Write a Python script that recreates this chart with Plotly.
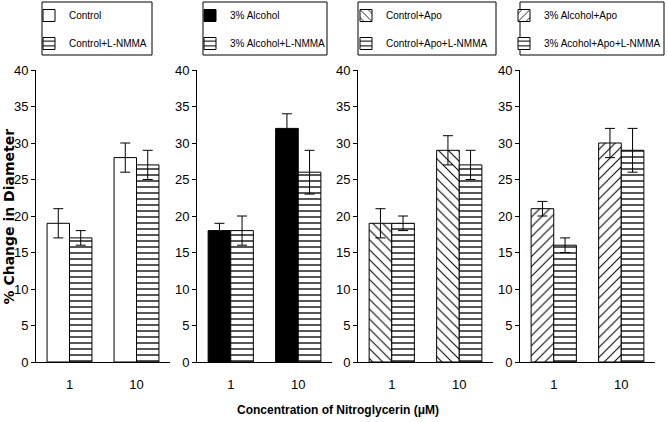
import plotly.graph_objects as go

categories = ["1", "10"]

# panel 1
control = [19, 28]
control_err = [2, 2]
control_nmma = [17, 27]
control_nmma_err = [1, 2]
# panel 2
alcohol = [18, 32]
alcohol_err = [1, 2]
alcohol_nmma = [18, 26]
alcohol_nmma_err = [2, 3]
# panel 3
control_apo = [19, 29]
control_apo_err = [2, 2]
control_apo_nmma = [19, 27]
control_apo_nmma_err = [1, 2]
# panel 4
alcohol_apo = [21, 30]
alcohol_apo_err = [1, 2]
alcohol_apo_nmma = [16, 29]
alcohol_apo_nmma_err = [1, 3]

y_ticks = [0, 5, 10, 15, 20, 25, 30, 35, 40]

FONT = "Liberation Sans, Arial, sans-serif"

panels = [
    (("Control", control, control_err, "white", ""),
     ("Control+L-NMMA", control_nmma, control_nmma_err, "white", "-")),
    (("3% Alcohol", alcohol, alcohol_err, "black", ""),
     ("3% Alcohol+L-NMMA", alcohol_nmma, alcohol_nmma_err, "white", "-")),
    (("Control+Apo", control_apo, control_apo_err, "white", "\\"),
     ("Control+Apo+L-NMMA", control_apo_nmma, control_apo_nmma_err, "white", "-")),
    (("3% Alcohol+Apo", alcohol_apo, alcohol_apo_err, "white", "/"),
     ("3% Acohol+Apo+L-NMMA", alcohol_apo_nmma, alcohol_apo_nmma_err, "white", "-")),
]

W, H = 667, 422
L, R, T, B = 36, 12, 70, 60
pw = W - L - R
ph = H - T - B

def px2x(px):
    return (px - L) / pw

def py2y(py):
    return (H - B - py) / ph

domains = [(36, 170), (197, 332), (358, 493), (520, 655)]
legend_boxes = [(42, 153), (203, 328), (358, 497), (520, 665)]
legend_text_x = [70, 231, 387, 545]

fig = go.Figure()
layout = {}
shapes = []
for i, (p, (d0, d1)) in enumerate(zip(panels, domains)):
    n = "" if i == 0 else str(i + 1)
    xa = "x" + n
    ya = "y" + n
    lg = "legend" if i == 0 else "legend" + str(i + 1)
    for j, (name, vals, errs, color, shape) in enumerate(p):
        fig.add_trace(go.Bar(
            x=categories, y=vals, name=name,
            xaxis=xa, yaxis=ya, legend=lg, legendgroup=f"g{i}{j}",
            marker=dict(color=color, line=dict(color="black", width=1),
                        pattern=dict(shape=shape, fgcolor="black", bgcolor="white",
                                     size=6 if shape == "-" else 7,
                                     solidity=0.22 if shape == "-" else 0.15,
                                     fillmode="replace")),
            error_y=dict(type="data", array=errs, visible=True, color="black",
                         thickness=1, width=5),
        ))
    layout["xaxis" + n] = dict(
        domain=[px2x(d0), px2x(d1)], anchor=ya, type="category",
        range=[-0.5, 1.5], showline=True, linecolor="black", linewidth=1,
        ticks="outside", ticklen=10, tickcolor="rgba(0,0,0,0)",
        tickfont=dict(family=FONT, size=13, color="black"),
        showgrid=False, zeroline=False, fixedrange=True, automargin=False,
    )
    layout["yaxis" + n] = dict(
        domain=[0, 1], anchor=xa, range=[0, 40], tickvals=y_ticks,
        showline=True, linecolor="black", linewidth=1,
        ticks="outside", ticklen=4, tickcolor="black",
        tickfont=dict(family=FONT, size=13, color="black"),
        showgrid=False, zeroline=False, fixedrange=True, automargin=False,
    )
    b0, b1 = legend_boxes[i]
    layout[lg] = dict(
        x=px2x(legend_text_x[i] - 41), y=py2y(1), xanchor="left", yanchor="top",
        bgcolor="rgba(0,0,0,0)", borderwidth=0,
        font=dict(family=FONT, size=10, color="black"),
        tracegroupgap=9, itemwidth=30,
    )
    shapes.append(dict(type="rect", xref="paper", yref="paper",
                       x0=px2x(b0), x1=px2x(b1 - 1), y0=py2y(55), y1=py2y(2),
                       line=dict(color="black", width=1), fillcolor="rgba(0,0,0,0)"))

annotations = [
    dict(text="<b>% Change in Diameter</b>", xref="paper", yref="paper",
         x=px2x(8.5), y=py2y(217), textangle=-90, showarrow=False,
         xanchor="center", yanchor="middle",
         font=dict(family="DejaVu Sans, sans-serif", size=14, color="black")),
    dict(text="<b>Concentration of Nitroglycerin (μM)</b>", xref="paper", yref="paper",
         x=px2x(338), y=py2y(410), showarrow=False, xanchor="center", yanchor="middle",
         font=dict(family=FONT, size=12, color="black")),
]

fig.update_layout(
    width=W, height=H, margin=dict(l=L, r=R, t=T, b=B, autoexpand=False),
    paper_bgcolor="white", plot_bgcolor="white",
    barmode="group", bargap=0.33, bargroupgap=0,
    shapes=shapes, annotations=annotations, showlegend=True,
    **layout,
)

fig.write_html("out.html", config={"displayModeBar": False},
               post_script="document.body.style.margin='0px';")
